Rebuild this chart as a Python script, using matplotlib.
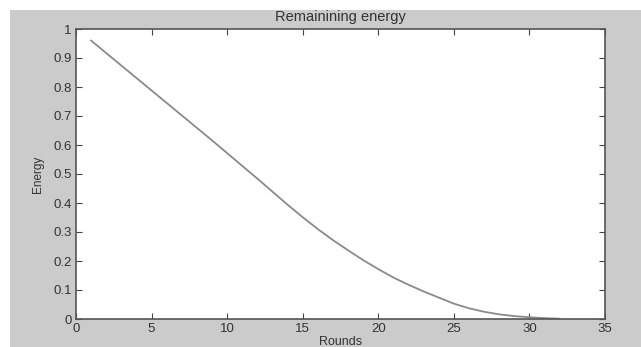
import matplotlib
matplotlib.use("Agg")
import matplotlib.pyplot as plt
from matplotlib.patches import Rectangle

plt.rcParams['font.family'] = ['Liberation Sans', 'DejaVu Sans']

rounds = list(range(1, 33))
energy = [0.960, 0.917, 0.874, 0.831, 0.788, 0.745, 0.702, 0.659, 0.616, 0.572,
          0.528, 0.484, 0.439, 0.394, 0.351, 0.310, 0.272, 0.237, 0.203, 0.172,
          0.143, 0.118, 0.095, 0.074, 0.053, 0.037, 0.025, 0.016, 0.010, 0.006,
          0.003, 0.001]
x_ticks = [0, 5, 10, 15, 20, 25, 30, 35]
y_ticks = [0, 0.1, 0.2, 0.3, 0.4, 0.5, 0.6, 0.7, 0.8, 0.9, 1]
y_tick_labels = ["0", "0.1", "0.2", "0.3", "0.4", "0.5", "0.6", "0.7", "0.8", "0.9", "1"]

W, H = 641, 347
fig = plt.figure(figsize=(W / 100, H / 100), dpi=100, facecolor="white")
fig.patches.append(Rectangle((10 / W, 0), 1 - 10 / W, 1 - 10 / H,
                             transform=fig.transFigure, facecolor="#cbcbcb",
                             edgecolor="none", zorder=-10))

left, top, right, bottom = 76, 29, 605, 319
ax = fig.add_axes([left / W, 1 - bottom / H, (right - left) / W, (bottom - top) / H])
ax.set_facecolor("white")
ax.plot(rounds, energy, color="#8a8a8a", linewidth=1.3)

ax.set_xlim(0, 35)
ax.set_ylim(0, 1)
ax.set_xticks(x_ticks)
ax.set_yticks(y_ticks)
ax.set_yticklabels(y_tick_labels)
ax.tick_params(direction="in", length=4, width=0.8, colors="#444444",
               labelcolor="#333333", labelsize=9.5, top=True, right=True, pad=3)
for s in ax.spines.values():
    s.set_color("#555555")
    s.set_linewidth(1.2)

ax.set_title("Remainining energy", fontsize=10.5, color="#333333", pad=6)
ax.set_xlabel("Rounds", fontsize=9, color="#333333", labelpad=0.5)
ax.set_ylabel("Energy", fontsize=8.5, color="#333333", labelpad=7)

fig.savefig("out.png", dpi=100, facecolor=fig.get_facecolor())
